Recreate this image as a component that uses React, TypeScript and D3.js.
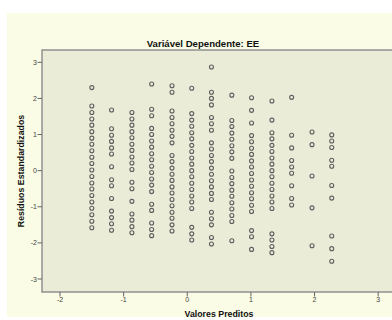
import React from "react";
import * as d3 from "d3";

// Predicted values (x) of each column of cases
const predicted = [-1.5, -1.19, -0.87, -0.56, -0.24, 0.07, 0.38, 0.7, 1.01, 1.33, 1.64, 1.96, 2.27];

// Standardized residuals for each predicted value
const resid1 = [2.3, 1.79, 1.61, 1.43, 1.26, 1.08, 0.9, 0.73, 0.55, 0.37, 0.2, 0.02, -0.16, -0.34, -0.51, -0.69, -0.87, -1.04, -1.22, -1.4, -1.58];
const resid2 = [1.68, 1.16, 0.98, 0.81, 0.63, 0.46, 0.11, -0.25, -0.42, -0.77, -1.12, -1.3, -1.47, -1.65];
const resid3 = [1.61, 1.43, 1.26, 1.08, 0.91, 0.73, 0.56, 0.38, 0.21, 0.03, -0.32, -0.5, -0.85, -1.2, -1.37, -1.55, -1.72];
const resid4 = [2.4, 1.7, 1.52, 1.17, 1.0, 0.82, 0.65, 0.47, 0.3, 0.12, -0.05, -0.23, -0.4, -0.58, -0.93, -1.1, -1.45, -1.63, -1.8];
const resid5 = [2.35, 2.17, 1.65, 1.47, 1.3, 1.12, 0.95, 0.77, 0.42, 0.25, 0.07, -0.1, -0.27, -0.45, -0.62, -0.8, -0.97, -1.15, -1.32, -1.5, -1.67];
const resid6 = [2.28, 1.58, 1.4, 1.23, 1.05, 0.88, 0.7, 0.53, 0.35, 0.18, 0.0, -0.17, -0.35, -0.52, -0.7, -0.87, -1.05, -1.57, -1.75, -1.92];
const resid7 = [2.87, 2.17, 2.0, 1.82, 1.47, 1.3, 1.12, 0.77, 0.6, 0.42, 0.25, 0.07, -0.1, -0.28, -0.45, -0.63, -0.8, -1.15, -1.33, -1.5, -1.85, -2.03];
const resid8 = [2.09, 1.39, 1.22, 1.04, 0.87, 0.69, 0.52, 0.34, -0.01, -0.19, -0.36, -0.54, -0.71, -0.89, -1.06, -1.24, -1.41, -1.94];
const resid9 = [2.02, 1.67, 1.32, 0.97, 0.8, 0.62, 0.45, 0.27, 0.1, -0.08, -0.26, -0.43, -0.61, -0.78, -0.96, -1.13, -1.66, -1.83, -2.18];
const resid10 = [1.93, 1.4, 1.05, 0.88, 0.7, 0.53, 0.35, 0.18, 0.0, -0.17, -0.35, -0.52, -0.7, -0.87, -1.05, -1.75, -1.92, -2.1, -2.27];
const resid11 = [2.03, 0.98, 0.63, 0.28, 0.1, -0.07, -0.42, -0.77, -0.95];
const resid12 = [1.07, 0.72, -0.15, -1.03, -2.08];
const resid13 = [0.99, 0.82, 0.64, 0.29, 0.12, -0.41, -0.76, -1.81, -2.16, -2.51];

const residuals = [resid1, resid2, resid3, resid4, resid5, resid6, resid7, resid8, resid9, resid10, resid11, resid12, resid13];

const xTicks = [-2, -1, 0, 1, 2, 3];
const yTicks = [-3, -2, -1, 0, 1, 2, 3];

const title = "Variável Dependente: EE";
const xTitle = "Valores Preditos";
const yTitle = "Resíduos Estandardizados";

const W = 392;
const H = 320;
const FONT = "'Liberation Sans', Arial, sans-serif";

export default function App() {
  const x = d3.scaleLinear().domain([-2, 3]).range([60, 378.2]);
  const y = d3.scaleLinear().domain([-3, 3]).range([279, 62.3]);

  const plotLeft = 42;
  const plotTop = 50;
  const plotBottom = 292;
  const plotRight = 400;

  const points: { px: number; py: number; key: string }[] = [];
  residuals.forEach((col, i) => {
    col.forEach((r, j) => {
      points.push({ px: x(predicted[i]), py: y(r), key: `${i}-${j}` });
    });
  });

  return (
    <svg
      width={W}
      height={H}
      style={{ position: "absolute", left: 0, top: 0, display: "block" }}
      fontFamily={FONT}
    >
      <rect x={0} y={0} width={W} height={H} fill="#ffffff" />
      <rect x={7} y={13} width={W - 7} height={304} fill="#FAFCE6" />
      <text x={203} y={46.5} textAnchor="middle" fontSize={9.6} fontWeight="bold" fill="#111">
        {title}
      </text>
      <rect
        x={plotLeft}
        y={plotTop}
        width={plotRight - plotLeft}
        height={plotBottom - plotTop}
        fill="#EAECD7"
        stroke="#8a8a8a"
        strokeWidth={1.4}
      />
      {yTicks.map((t) => (
        <g key={`y${t}`}>
          <line x1={plotLeft - 4.5} x2={plotLeft} y1={y(t)} y2={y(t)} stroke="#666" strokeWidth={1} />
          <text x={plotLeft - 5} y={y(t) + 2.5} textAnchor="end" fontSize={7} fill="#444">
            {t}
          </text>
        </g>
      ))}
      {xTicks.map((t) => (
        <g key={`x${t}`}>
          <line x1={x(t)} x2={x(t)} y1={plotBottom} y2={plotBottom + 4.5} stroke="#666" strokeWidth={1} />
          <text x={x(t)} y={plotBottom + 10} textAnchor="middle" fontSize={7} fill="#444">
            {t}
          </text>
        </g>
      ))}
      {points.map((p) => (
        <circle key={p.key} cx={p.px} cy={p.py} r={2} fill="none" stroke="#5e5e5e" strokeWidth={1.1} />
      ))}
      <text x={219} y={316.5} textAnchor="middle" fontSize={8.8} fontWeight="bold" fill="#111">
        {xTitle}
      </text>
      <text
        transform={`translate(23.5, ${(plotTop + plotBottom) / 2}) rotate(-90)`}
        textAnchor="middle"
        fontSize={8.8}
        fontWeight="bold"
        fill="#111"
      >
        {yTitle}
      </text>
    </svg>
  );
}
